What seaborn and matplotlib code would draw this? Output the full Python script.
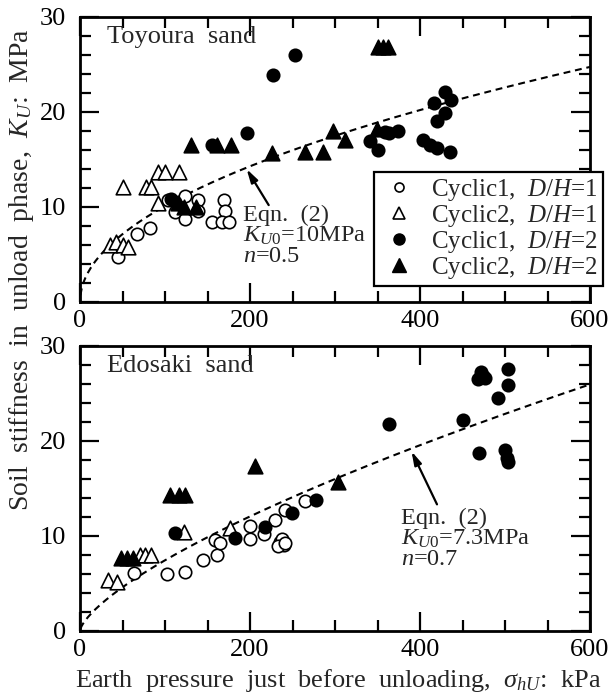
import numpy as np
import pandas as pd
import matplotlib
matplotlib.use("Agg")
import matplotlib.pyplot as plt
from matplotlib.lines import Line2D
from matplotlib.ticker import MultipleLocator
import seaborn as sns

# ---------------- data ----------------
# Toyoura sand (top panel)
toy_c1_dh1_x = [45, 67, 82, 104, 112, 117, 124, 124, 139, 139, 155, 169, 171, 167, 175]
toy_c1_dh1_y = [4.7, 7.2, 7.8, 10.7, 9.5, 10.3, 11.2, 8.7, 10.7, 9.6, 8.4, 10.7, 9.6, 8.4, 8.4]
toy_c2_dh1_x = [35, 42, 50, 57, 51, 78, 84, 92, 100, 116, 92]
toy_c2_dh1_y = [6.0, 6.3, 6.0, 5.8, 12.1, 12.1, 12.1, 13.7, 13.7, 13.7, 10.4]
toy_c1_dh2_x = [107, 112, 155, 196, 227, 253, 341, 351, 359, 364, 374.5, 404, 412, 420, 435,
                416, 429, 429, 420, 437]
toy_c1_dh2_y = [10.8, 10.5, 16.5, 17.8, 23.9, 26.0, 16.9, 16.0, 17.9, 17.8, 18.0, 17.05, 16.5, 16.2, 15.8,
                20.9, 22.1, 19.9, 19.0, 21.3]
toy_c2_dh2_x = [115, 122, 137, 131, 161, 178, 225.5, 265, 286, 298, 312, 349, 350, 356, 362]
toy_c2_dh2_y = [10.4, 10.0, 10.0, 16.5, 16.5, 16.5, 15.7, 15.8, 15.8, 18.0, 17.05, 18.2, 26.8, 26.8, 26.8]

# Edosaki sand (bottom panel)
edo_c1_dh1_x = [63, 102, 124, 145, 161, 159, 165, 200, 200, 216, 229, 241, 265, 235, 238, 240, 233, 241]
edo_c1_dh1_y = [6.1, 6.0, 6.2, 7.4, 8.0, 9.5, 9.2, 11.0, 9.6, 10.2, 11.6, 12.7, 13.7, 9.3, 9.7, 9.0, 8.9, 9.2]
edo_c2_dh1_x = [33, 43, 71, 76, 84, 122, 176]
edo_c2_dh1_y = [5.3, 5.1, 8.0, 8.0, 8.0, 10.4, 10.8]
edo_c1_dh2_x = [112, 182, 218, 249, 278, 363, 451, 468, 472, 476, 474, 504, 504, 492, 469, 500, 502, 504]
edo_c1_dh2_y = [10.3, 9.8, 10.9, 12.35, 13.75, 21.8, 22.2, 26.5, 27.3, 26.6, 26.8, 27.6, 25.9, 24.5,
                18.7, 19.0, 18.2, 17.8]
edo_c2_dh2_x = [48, 55, 62, 106, 116, 124, 206, 304]
edo_c2_dh2_y = [7.6, 7.6, 7.6, 14.3, 14.3, 14.3, 17.3, 15.7]

# Eqn. (2) parameters
toy_K0, toy_n = 10.0, 0.5
edo_K0, edo_n = 7.3, 0.7
p_ref = 98.0

legend_labels = ["Cyclic1,  $D/H$=1", "Cyclic2,  $D/H$=1",
                 "Cyclic1,  $D/H$=2", "Cyclic2,  $D/H$=2"]

# ---------------- style ----------------
sns.set_style("ticks")
plt.rcParams["font.family"] = ["Liberation Serif", "DejaVu Serif"]
plt.rcParams["mathtext.fontset"] = "custom"
plt.rcParams["mathtext.rm"] = "Liberation Serif"
plt.rcParams["mathtext.it"] = "Liberation Serif:italic"
plt.rcParams["mathtext.bf"] = "Liberation Serif:bold"

FS = 19

fig = plt.figure(figsize=(6.13, 6.99), dpi=100)
W, H = 613, 699
def ax_rect(l, t, r, b):
    return [l / W, 1 - b / H, (r - l) / W, (b - t) / H]

ax_top = fig.add_axes(ax_rect(80, 17, 590, 302))
ax_bot = fig.add_axes(ax_rect(80, 346, 590, 630.5))

S_C = 80
S_T = 110
LW = 1.2

def draw(ax, c1x, c1y, c2x, c2y, f1x, f1y, f2x, f2y, K0, n):
    sig = np.linspace(0.5, 600, 400)
    K = K0 * (sig / p_ref) ** n
    ax.plot(sig, K, color="black", lw=1.5, linestyle=(0, (3.3, 2.3)), zorder=1)
    sns.scatterplot(x=c1x, y=c1y, ax=ax, marker="o", s=S_C, facecolor="white",
                    edgecolor="black", linewidth=LW, zorder=2)
    sns.scatterplot(x=c2x, y=c2y, ax=ax, marker="^", s=S_T, facecolor="white",
                    edgecolor="black", linewidth=LW, zorder=2)
    sns.scatterplot(x=f1x, y=f1y, ax=ax, marker="o", s=S_C, color="black",
                    edgecolor="black", linewidth=LW, zorder=3)
    sns.scatterplot(x=f2x, y=f2y, ax=ax, marker="^", s=S_T, color="black",
                    edgecolor="black", linewidth=LW, zorder=3)
    ax.set_xlim(0, 600)
    ax.set_ylim(0, 30)
    ax.xaxis.set_major_locator(MultipleLocator(200))
    ax.xaxis.set_minor_locator(MultipleLocator(50))
    ax.yaxis.set_major_locator(MultipleLocator(10))
    ax.yaxis.set_minor_locator(MultipleLocator(2))
    ax.tick_params(which="both", direction="in", top=True, right=True,
                   width=1.6, labelsize=FS, colors="black")
    ax.tick_params(which="major", length=14)
    ax.tick_params(which="minor", length=8)
    ax.tick_params(axis="x", which="major", pad=6)
    ax.tick_params(axis="y", which="major", pad=10)
    for sp in ax.spines.values():
        sp.set_visible(True)
        sp.set_linewidth(2.0)
        sp.set_color("black")
    ax.set_xlabel("")
    ax.set_ylabel("")

draw(ax_top, toy_c1_dh1_x, toy_c1_dh1_y, toy_c2_dh1_x, toy_c2_dh1_y,
     toy_c1_dh2_x, toy_c1_dh2_y, toy_c2_dh2_x, toy_c2_dh2_y, toy_K0, toy_n)
draw(ax_bot, edo_c1_dh1_x, edo_c1_dh1_y, edo_c2_dh1_x, edo_c2_dh1_y,
     edo_c1_dh2_x, edo_c1_dh2_y, edo_c2_dh2_x, edo_c2_dh2_y, edo_K0, edo_n)

ax_top.text(0.053, 0.968, "Toyoura  sand", transform=ax_top.transAxes, fontsize=19,
            va="top", ha="left")
ax_bot.text(0.053, 0.970, "Edosaki  sand", transform=ax_bot.transAxes, fontsize=19,
            va="top", ha="left")

# annotations
ax_top.annotate("", xy=(196, 14.0), xytext=(222, 10.2),
                arrowprops=dict(arrowstyle="-|>,head_length=0.8,head_width=0.22",
                                color="black", lw=1.6, shrinkA=0, shrinkB=0))
ax_top.text(192, 10.2, "Eqn.  (2)\n$K_{U0}$=10MPa\n$n$=0.5", fontsize=17.5,
            va="top", ha="left", linespacing=0.92)
ax_bot.annotate("", xy=(390, 18.9), xytext=(420, 13.3),
                arrowprops=dict(arrowstyle="-|>,head_length=0.8,head_width=0.22",
                                color="black", lw=1.6, shrinkA=0, shrinkB=0))
ax_bot.text(378, 12.9, "Eqn.  (2)\n$K_{U0}$=7.3MPa\n$n$=0.7", fontsize=17.5,
            va="top", ha="left", linespacing=0.92)

# legend
handles = [
    Line2D([], [], marker="o", ls="", markersize=6.5, markerfacecolor="white",
           markeredgecolor="black", markeredgewidth=1.2),
    Line2D([], [], marker="^", ls="", markersize=9, markerfacecolor="white",
           markeredgecolor="black", markeredgewidth=1.2),
    Line2D([], [], marker="o", ls="", markersize=8, markerfacecolor="black",
           markeredgecolor="black"),
    Line2D([], [], marker="^", ls="", markersize=10, markerfacecolor="black",
           markeredgecolor="black"),
]
leg = ax_top.legend(handles, legend_labels, loc="lower right",
                    bbox_to_anchor=(1.0255, 0.056), fontsize=18, frameon=True,
                    fancybox=False, edgecolor="black", framealpha=1,
                    handlelength=1.6, handletextpad=0.5, borderpad=0.2,
                    labelspacing=0.0, borderaxespad=0)
leg.get_frame().set_linewidth(1.6)

# axis labels
fig.text(22 / W, 1 - 270 / H, "Soil  stiffness  in  unload  phase,  $K_U$:  MPa",
         rotation=90, ha="center", va="center", fontsize=20)
fig.text(338 / W, 1 - 680 / H,
         "Earth  pressure  just  before  unloading,  $\\sigma_{hU}$:  kPa",
         ha="center", va="center", fontsize=19)

fig.savefig("out.png", dpi=100)
